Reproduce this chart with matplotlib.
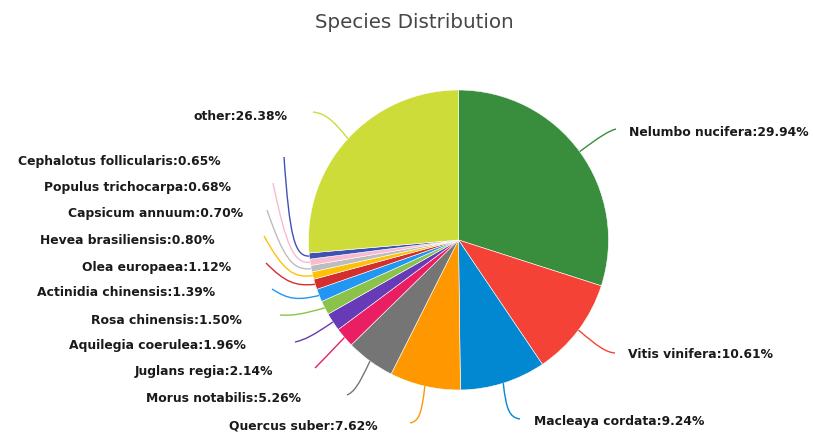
import matplotlib
matplotlib.use("Agg")
import matplotlib.pyplot as plt
import numpy as np
from matplotlib.path import Path
from matplotlib.patches import PathPatch

# ---- data ----
species = ["Nelumbo nucifera", "Vitis vinifera", "Macleaya cordata", "Quercus suber",
           "Morus notabilis", "Juglans regia", "Aquilegia coerulea", "Rosa chinensis",
           "Actinidia chinensis", "Olea europaea", "Hevea brasiliensis", "Capsicum annuum",
           "Populus trichocarpa", "Cephalotus follicularis", "other"]
percent = [29.94, 10.61, 9.24, 7.62, 5.26, 2.14, 1.96, 1.50, 1.39, 1.12, 0.80, 0.70,
           0.68, 0.65, 26.38]
colors = ["#388E3C", "#F44336", "#0288D1", "#FF9800", "#757575", "#E91E63", "#673AB7",
          "#8BC34A", "#2196F3", "#D32F2F", "#FFC107", "#BDBDBD", "#F8BBD0", "#3F51B5",
          "#CDDC39"]

# ---- layout (pixel coordinates, y downward) ----
W, H = 813, 433
CX, CY, R = 458.5, 240, 150
corners = [(606, 132), (604, 352), (507, 417), (421, 421), (356, 391), (323, 360),
           (308, 339), (296, 316), (292, 302), (290, 287), (288, 279), (288, 271),
           (290, 264), (291, 257), (328, 114)]
ends = [(616, 129), (615, 353), (520, 419), (410, 423), (347, 395), (315, 368),
        (295, 342), (280, 315), (272, 289), (266, 263), (264, 236), (267, 210),
        (273, 183), (284, 157), (313, 112)]
label_pos = [(629, 133, "left"), (628, 355, "left"), (534, 422, "left"), (378, 426, "right"),
             (301, 398, "right"), (273, 372, "right"), (246, 346, "right"), (242, 320, "right"),
             (215, 293, "right"), (231, 267, "right"), (215, 240, "right"), (243, 213, "right"),
             (231, 188, "right"), (221, 162, "right"), (287, 116, "right")]

fig = plt.figure(figsize=(W / 100, H / 100), dpi=100)
ax = fig.add_axes([0, 0, 1, 1])

def P(x, y):
    return (x, H - y)

ax.pie(percent, colors=colors, startangle=90, counterclock=False,
       center=P(CX, CY), radius=R,
       wedgeprops=dict(edgecolor="white", linewidth=0.4))
ax.set_xlim(0, W)
ax.set_ylim(0, H)
ax.set_aspect("equal")
ax.axis("off")

total = sum(percent)
cum = 0.0
for i, v in enumerate(percent):
    mid = 90 - 360 * (cum + v / 2) / total
    cum += v
    th = np.deg2rad(mid)
    p0 = np.array([CX + R * np.cos(th), H - CY + R * np.sin(th)])
    c = np.array(P(*corners[i]))
    p3 = np.array(P(*ends[i]))
    p1 = p0 + 0.8 * (c - p0)
    p2 = p3 + 0.8 * (c - p3)
    path = Path([p0, p1, p2, p3], [Path.MOVETO, Path.CURVE4, Path.CURVE4, Path.CURVE4])
    ax.add_patch(PathPatch(path, fill=False, edgecolor=colors[i], lw=1.0))
    lx, ly, ha = label_pos[i]
    ax.text(*P(lx, ly), f"{species[i]}:{v:.2f}%", ha=ha, va="center",
            fontsize=8.95, fontweight="bold", color="#1a1a1a",
            family="DejaVu Sans")

ax.text(*P(414, 22), "Species Distribution", ha="center", va="center",
        fontsize=14.3, color="#464646", family="DejaVu Sans")

fig.savefig("out.png", dpi=100)
